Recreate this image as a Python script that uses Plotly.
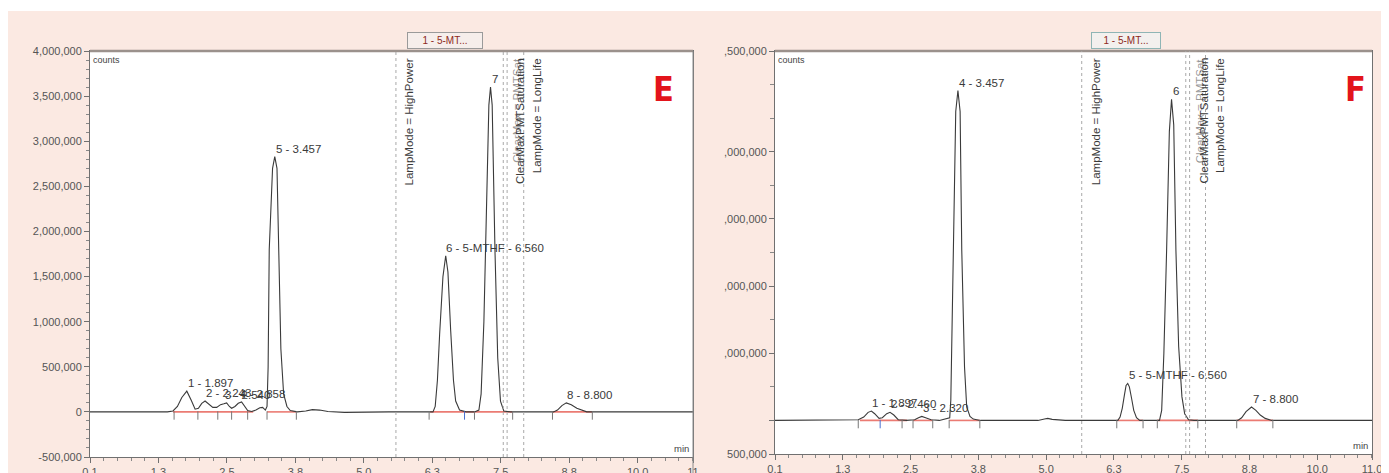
import plotly.graph_objects as go

# ---------------- data ----------------
E_time = [0.10, 1.00, 1.50, 1.60, 1.68, 1.76, 1.85, 1.93, 2.00, 2.06, 2.12, 2.18, 2.25, 2.32, 2.39, 2.46,
          2.52, 2.57, 2.62, 2.66, 2.72, 2.78, 2.84, 2.90, 2.95, 3.02, 3.10, 3.17, 3.22, 3.27, 3.30, 3.32,
          3.34, 3.40, 3.44, 3.48, 3.51, 3.55, 3.60, 3.66, 3.72, 3.85, 4.00, 4.12, 4.25, 4.40, 4.70, 5.00,
          5.50, 6.00, 6.30, 6.34, 6.38, 6.42, 6.48, 6.53, 6.57, 6.62, 6.67, 6.71, 6.78, 6.90, 7.05, 7.13,
          7.17, 7.22, 7.26, 7.31, 7.34, 7.37, 7.42, 7.47, 7.52, 7.58, 7.70, 8.00, 8.48, 8.55, 8.63, 8.71,
          8.80, 8.90, 9.00, 9.08, 9.50, 9.80, 10.00, 10.30, 11.00]
E_counts = [0, 0, 0, 10000, 60000, 160000, 230000, 130000, 30000, 40000, 95000, 120000, 90000, 50000, 50000, 80000,
            90000, 100000, 60000, 40000, 60000, 95000, 110000, 60000, 15000, 5000, 20000, 45000, 50000, 20000, 60000, 500000,
            1800000, 2700000, 2830000, 2700000, 1800000, 700000, 200000, 60000, 15000, 0, 10000, 25000, 20000, 5000, -5000, 0,
            0, 0, 0, 60000, 350000, 860000, 1500000, 1730000, 1550000, 900000, 350000, 120000, 20000, 0, 0, 20000,
            200000, 1000000, 2200000, 3400000, 3600000, 3400000, 1800000, 600000, 120000, 10000, 0, 0, 0, 20000, 70000, 100000,
            80000, 40000, 15000, 0, 0, 5000, 0, 0, 0]

F_time = [0.10, 1.00, 1.50, 1.62, 1.72, 1.80, 1.86, 1.92, 2.00, 2.06, 2.14, 2.20, 2.27, 2.35, 2.50, 2.65,
          2.72, 2.78, 2.85, 2.95, 3.10, 3.20, 3.26, 3.29, 3.31, 3.35, 3.40, 3.44, 3.48, 3.51, 3.56, 3.60,
          3.66, 3.72, 3.85, 4.20, 4.90, 5.02, 5.08, 5.16, 5.40, 6.00, 6.36, 6.40, 6.44, 6.48, 6.51, 6.54,
          6.57, 6.61, 6.65, 6.70, 6.76, 6.95, 7.12, 7.16, 7.20, 7.25, 7.30, 7.34, 7.38, 7.42, 7.47, 7.53,
          7.58, 7.65, 7.75, 8.20, 8.55, 8.62, 8.70, 8.80, 8.88, 8.96, 9.05, 9.17, 9.60, 10.20, 11.00]
F_counts = [0, 0, 0, 10000, 50000, 120000, 140000, 100000, 30000, 40000, 100000, 120000, 80000, 10000, 0, 10000,
            40000, 60000, 40000, 10000, 0, 20000, 30000, 40000, 300000, 2530000, 4600000, 4910000, 4600000, 2530000, 800000, 200000,
            60000, 20000, 0, 0, 0, 20000, 30000, 15000, 0, 0, 0, 50000, 180000, 380000, 520000, 550000,
            500000, 330000, 150000, 40000, 0, 0, 0, 150000, 1000000, 2530000, 4300000, 4780000, 4400000, 2530000, 1100000, 350000,
            100000, 10000, 0, 0, 0, 40000, 130000, 200000, 150000, 80000, 30000, 0, 0, 0, 0]

# integration baselines (start, end) and peak delimiters
E_base_start = [1.60, 3.30, 6.25, 8.46]
E_base_end = [3.05, 3.83, 7.74, 9.18]
F_base_start = [1.65, 2.62, 3.28, 6.34, 7.08, 8.53]
F_base_end = [2.51, 2.98, 3.84, 6.82, 7.82, 9.19]
E_delims = [1.62, 2.05, 2.41, 2.66, 2.95, 3.30, 3.83, 6.23, 6.87, 7.05, 7.74, 8.46, 9.18]
E_delim_col = ['#777', '#777', '#777', '#777', '#777', '#777', '#777', '#777', '#4a6fd0', '#777', '#777', '#777', '#777']
F_delims = [1.62, 2.02, 2.42, 2.62, 2.98, 3.28, 3.84, 6.34, 6.82, 7.08, 7.82, 8.53, 9.19]
F_delim_col = ['#777', '#4a6fd0', '#777', '#777', '#777', '#777', '#777', '#777', '#777', '#777', '#777', '#777', '#777']

# peak labels
E_lab_text = ["1 - 1.897", "2 - 2.243", "3 - 2.540", "4 - 2.858", "5 - 3.457", "6 - 5-MTHF - 6.560", "7", "8 - 8.800"]
E_lab_t = [1.85, 2.18, 2.52, 2.80, 3.44, 6.51, 7.34, 8.71]
E_lab_y = [230000, 120000, 100000, 110000, 2830000, 1730000, 3600000, 100000]
F_lab_text = ["1 - 1.897", "2 - 2.460", "3 - 2.320", "4 - 3.457", "5 - 5-MTHF - 6.560", "6", "7 - 8.800"]
F_lab_t = [1.86, 2.20, 2.78, 3.44, 6.54, 7.34, 8.80]
F_lab_y = [140000, 120000, 60000, 4910000, 550000, 4780000, 200000]

# events (vertical dashed lines)
E_event_t = [5.63, 7.57, 7.64, 7.94]
F_event_t = [5.70, 7.60, 7.67, 7.96]
event_text = ["LampMode = HighPower", "ClearMax = PMTSat", "ClearMaxPMTSaturation", "LampMode = LongLife"]

# axis ticks
x_tickvals = [0.1, 1.3375, 2.575, 3.8125, 5.05, 6.2875, 7.525, 8.7625, 10.0, 11.0]
E_x_ticktext = ["0.1", "1.3", "2.5", "3.8", "5.0", "6.3", "7.5", "8.8", "10.0", "11"]
F_x_ticktext = ["0.1", "1.3", "2.5", "3.8", "5.0", "6.3", "7.5", "8.8", "10.0", "11.0"]
E_y_tickvals = [-500000, 0, 500000, 1000000, 1500000, 2000000, 2500000, 3000000, 3500000, 4000000]
E_y_ticktext = ["-500,000", "0", "500,000", "1,000,000", "1,500,000", "2,000,000", "2,500,000",
                "3,000,000", "3,500,000", "4,000,000"]
F_y_tickvals = [-500000, 0, 1000000, 2000000, 3000000, 4000000, 5500000]
F_y_ticktext = ["500,000", "", ",000,000", ",000,000", ",000,000", ",000,000", ",500,000"]

# ---------------- figure ----------------
OFF = 8  # page body margin
W, H = 1389 - OFF, 473 - OFF
FONT = "Liberation Sans, Arial, sans-serif"
PINK = "#fbe9e2"


def px_x(v):
    return (v - OFF) / W


def px_y(v):
    return 1 - (v - OFF) / H


E_dom_x = [px_x(90), px_x(693)]
E_dom_y = [px_y(457), px_y(51)]
F_dom_x = [px_x(775), px_x(1372)]
F_dom_y = [px_y(454), px_y(51)]

fig = go.Figure()


def add_panel(xa, ya, t, c, bs, be, dl, dcol, ymin):
    for s, e in zip(bs, be):
        fig.add_trace(go.Scatter(x=[s, e], y=[0, 0], mode="lines",
                                 line=dict(color="rgba(232,100,90,0.85)", width=1.6),
                                 xaxis=xa, yaxis=ya, showlegend=False, hoverinfo="skip"))
    fig.add_trace(go.Scatter(x=t, y=c, mode="lines", line=dict(color="#3a3a3a", width=1.1),
                             xaxis=xa, yaxis=ya, showlegend=False))
    fig.add_trace(go.Scatter(x=dl, y=[ymin] * len(dl), mode="markers",
                             marker=dict(symbol="line-ns-open", size=6, color=dcol,
                                         line=dict(color=dcol, width=1)),
                             xaxis=xa, yaxis=ya, showlegend=False, hoverinfo="skip"))


add_panel("x", "y", E_time, E_counts, E_base_start, E_base_end, E_delims, E_delim_col, -40000)
add_panel("x2", "y2", F_time, F_counts, F_base_start, F_base_end, F_delims, F_delim_col, -55000)

tickfont = dict(family=FONT, size=11, color="#555")
axis_common = dict(showline=True, linecolor="#707070", linewidth=1, mirror=True,
                   ticks="outside", tickcolor="#707070", ticklen=5, showgrid=False,
                   zeroline=False, tickfont=tickfont, automargin=False)

xminor = dict(tickmode="linear", tick0=0.1, dtick=0.2475, ticklen=3, tickcolor="#888", ticks="outside")

fig.update_layout(
    xaxis=dict(domain=E_dom_x, range=[0.1, 11.0], tickmode="array", tickvals=x_tickvals,
               ticktext=E_x_ticktext, minor=xminor, anchor="y", **axis_common),
    yaxis=dict(domain=E_dom_y, range=[-500000, 4000000], tickmode="array", tickvals=E_y_tickvals,
               ticktext=E_y_ticktext, anchor="x",
               minor=dict(tickmode="linear", tick0=0, dtick=100000, ticklen=3, tickcolor="#888", ticks="outside"),
               **axis_common),
    xaxis2=dict(domain=F_dom_x, range=[0.1, 11.0], tickmode="array", tickvals=x_tickvals,
                ticktext=F_x_ticktext, minor=xminor, anchor="y2", **axis_common),
    yaxis2=dict(domain=F_dom_y, range=[-500000, 5500000], tickmode="array", tickvals=F_y_tickvals,
                ticktext=F_y_ticktext, anchor="x2",
                minor=dict(tickmode="linear", tick0=0, dtick=500000, ticklen=4, tickcolor="#888", ticks="outside"),
                **axis_common),
)

shapes = []
# page pink background
shapes.append(dict(type="rect", xref="paper", yref="paper", x0=0, x1=1, y0=0, y1=px_y(11),
                   fillcolor=PINK, line=dict(width=0), layer="below"))
# white plot areas
for dx, dy in ((E_dom_x, E_dom_y), (F_dom_x, F_dom_y)):
    shapes.append(dict(type="rect", xref="paper", yref="paper", x0=dx[0], x1=dx[1], y0=dy[0], y1=dy[1],
                       fillcolor="white", line=dict(width=0), layer="below"))
    # thicker top border
    shapes.append(dict(type="line", xref="paper", yref="paper", x0=dx[0], x1=dx[1], y0=dy[1], y1=dy[1],
                       line=dict(color="#9b918c", width=2.5)))
# E panel right edge line running down to bottom
shapes.append(dict(type="line", xref="paper", yref="paper", x0=E_dom_x[1], x1=E_dom_x[1], y0=0, y1=E_dom_y[1],
                   line=dict(color="#8a8a8a", width=1)))
# event lines
for xa, ya, evs in (("x", "y", E_event_t), ("x2", "y2", F_event_t)):
    for ev in evs:
        shapes.append(dict(type="line", xref=xa, yref=ya + " domain", x0=ev, x1=ev, y0=0, y1=1,
                           line=dict(color="#a8a8a8", width=1, dash="dot")))
fig.update_layout(shapes=shapes)

ann = []
lab_font = dict(family=FONT, size=11.5, color="#3a3a3a")
for xa, ya, txts, ts, ys in (("x", "y", E_lab_text, E_lab_t, E_lab_y), ("x2", "y2", F_lab_text, F_lab_t, F_lab_y)):
    for tx, t, y in zip(txts, ts, ys):
        ann.append(dict(xref=xa, yref=ya, x=t, y=y, text=tx, showarrow=False, xanchor="left",
                        yanchor="bottom", xshift=-1, yshift=0, font=lab_font))
ev_font = dict(family=FONT, size=11.5, color="#3a3a3a")
for xa, ya, evs, sh in (("x", "y", E_event_t, 5), ("x2", "y2", F_event_t, 6)):
    for i, (ev, tx) in enumerate(zip(evs, event_text)):
        f = dict(ev_font)
        if i == 1:
            f["color"] = "rgba(60,60,60,0.55)"
        ann.append(dict(xref=xa, yref=ya + " domain", x=ev, y=1, text=tx, showarrow=False,
                        textangle=-90, xanchor="left", yanchor="top", xshift=sh, yshift=-5, font=f))
# "counts" and "min"
for xa, ya in (("x", "y"), ("x2", "y2")):
    ann.append(dict(xref=xa + " domain", yref=ya + " domain", x=0, y=1, text="counts", showarrow=False,
                    xanchor="left", yanchor="top", xshift=1, yshift=-2,
                    font=dict(family=FONT, size=9, color="#444")))
    ann.append(dict(xref=xa + " domain", yref=ya + " domain", x=1, y=0, text="min", showarrow=False,
                    xanchor="right", yanchor="bottom", xshift=-2, yshift=1,
                    font=dict(family=FONT, size=9.5, color="#444")))
# title boxes
ann.append(dict(xref="paper", yref="paper", x=px_x(445), y=px_y(41), text="1 - 5-MT...", showarrow=False,
                xanchor="center", yanchor="middle",
                font=dict(family=FONT, size=10, color="#8e2a22"), bgcolor="#f6eeeb",
                bordercolor="#9a9a9a", borderwidth=1, borderpad=2, width=70, height=11))
ann.append(dict(xref="paper", yref="paper", x=px_x(1126), y=px_y(41), text="1 - 5-MT...", showarrow=False,
                xanchor="center", yanchor="middle",
                font=dict(family=FONT, size=10, color="#8e2a22"), bgcolor="#f3f0ee",
                bordercolor="#8fb5b5", borderwidth=1, borderpad=2, width=64, height=11))
# panel letters
for lx, letter in ((663, "E"), (1355, "F")):
    ann.append(dict(xref="paper", yref="paper", x=px_x(lx), y=px_y(89), text=letter, showarrow=False,
                    xanchor="center", yanchor="middle",
                    font=dict(family="DejaVu Sans Condensed, DejaVu Sans, sans-serif", size=34,
                              weight="bold", color="#e3141b")))
fig.update_layout(annotations=ann)

fig.update_layout(width=W, height=H, autosize=False, margin=dict(l=0, r=0, t=0, b=0),
                  paper_bgcolor="white", plot_bgcolor="white", showlegend=False)

fig.write_html("out.html")
